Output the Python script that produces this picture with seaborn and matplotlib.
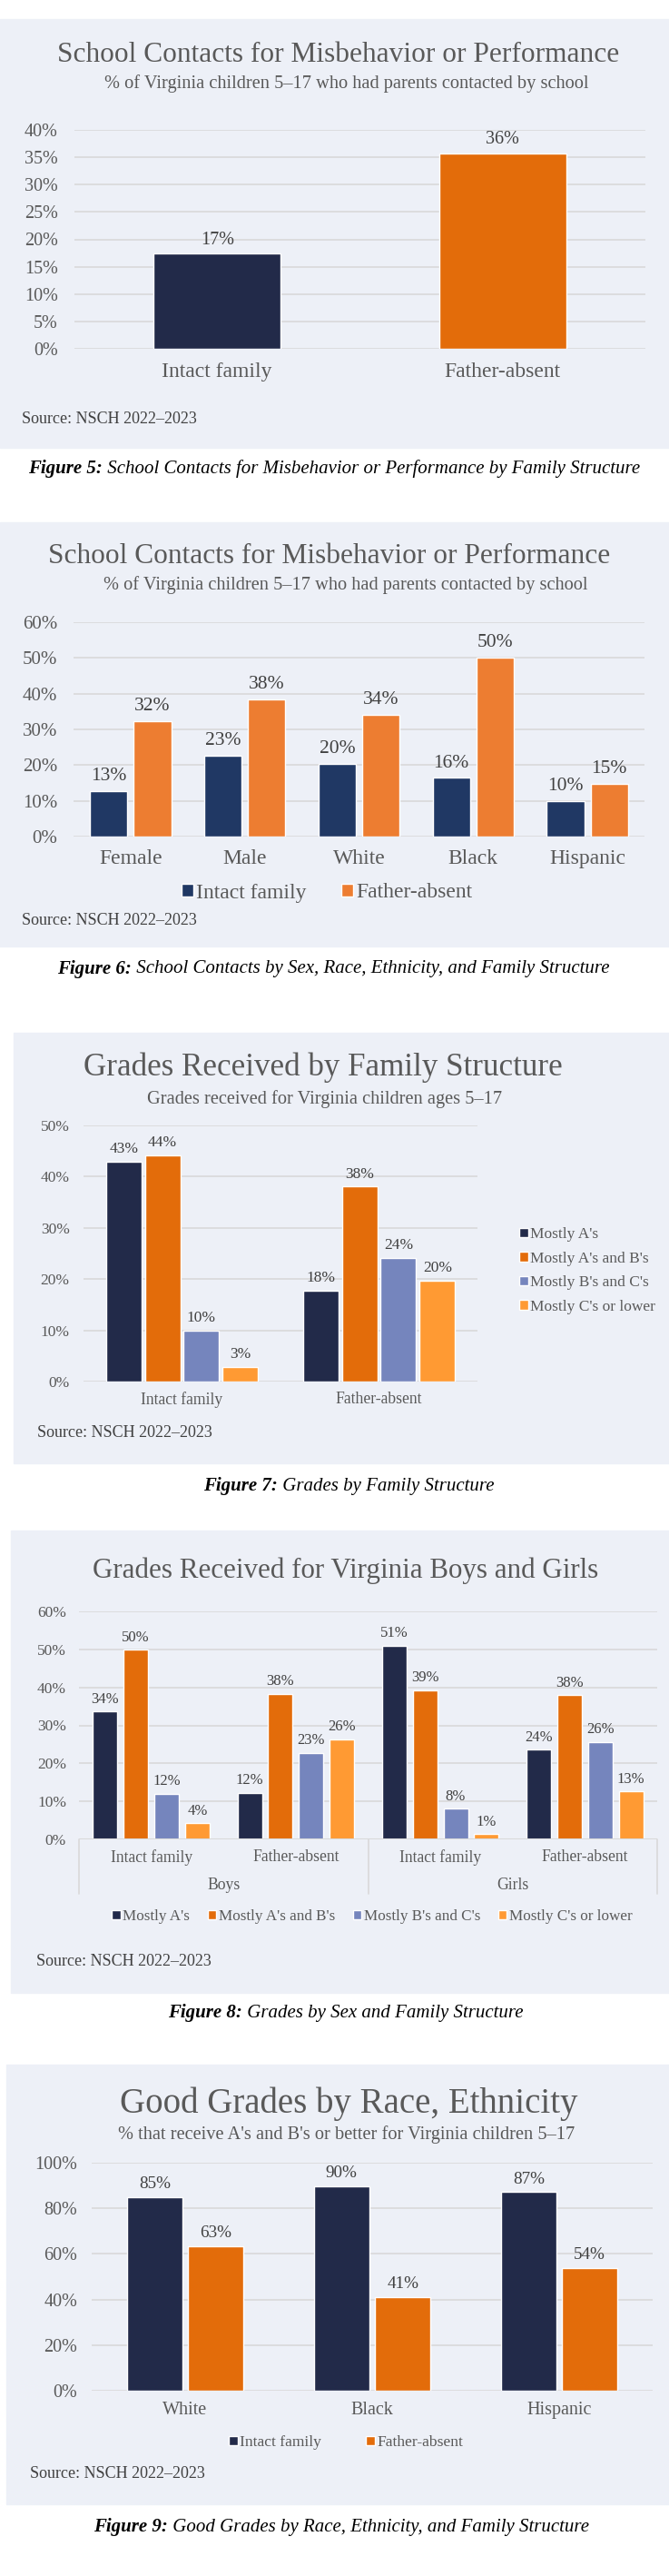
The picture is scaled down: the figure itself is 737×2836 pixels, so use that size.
import pandas as pd
import matplotlib
matplotlib.use("Agg")
import matplotlib.pyplot as plt
import seaborn as sns
from matplotlib.patches import Rectangle
from matplotlib.ticker import PercentFormatter

# ==========================================
# Data
# ==========================================
families = ["Intact family", "Father-absent"]

# Figure 5
fig5_values = [17.4, 35.7]

# Figure 6
fig6_groups = ["Female", "Male", "White", "Black", "Hispanic"]
fig6_intact = [12.8, 22.6, 20.4, 16.4, 9.9]
fig6_absent = [32.4, 38.4, 34.0, 50.0, 14.8]

# Figure 7
grades = ["Mostly A's", "Mostly A's and B's", "Mostly B's and C's", "Mostly C's or lower"]
fig7_intact = [42.9, 44.2, 10.0, 2.9]
fig7_absent = [17.8, 38.1, 24.2, 19.7]

# Figure 8
fig8_sex = ["Boys", "Boys", "Girls", "Girls"]
fig8_family = ["Intact family", "Father-absent", "Intact family", "Father-absent"]
fig8_mostly_a = [33.6, 12.2, 51.0, 23.6]
fig8_mostly_ab = [49.9, 38.3, 39.2, 37.9]
fig8_mostly_bc = [12.0, 22.7, 8.1, 25.6]
fig8_mostly_c = [4.2, 26.4, 1.4, 12.6]

# Figure 9
fig9_groups = ["White", "Black", "Hispanic"]
fig9_intact = [85.0, 89.8, 87.1]
fig9_absent = [63.4, 41.2, 53.8]

# ==========================================
# Style
# ==========================================
W, H = 737, 2836
BG = "#EDF0F7"
GRID = "#D9D9D9"
GRAY = "#595959"
DARK = "#404040"
NAVY = "#222A49"
ORANGE = "#E36C0A"
BLUE = "#7585BD"
LIGHT_ORANGE = "#FF9A33"

sns.set_theme(style="white")
plt.rcParams["font.family"] = ["Liberation Serif", "DejaVu Serif"]

fig = plt.figure(figsize=(W / 100, H / 100), dpi=100, facecolor="white")


def fy(y):
    return 1 - y / H


def panel(x0, y0, x1, y1):
    fig.add_artist(Rectangle((x0 / W, fy(y1)), (x1 - x0) / W, (y1 - y0) / H,
                             transform=fig.transFigure, color=BG, zorder=-5))


def make_axes(l, t, r, b):
    ax = fig.add_axes([l / W, fy(b), (r - l) / W, (b - t) / H])
    ax.set_facecolor("none")
    return ax


def style_axes(ax, ymax, step, ysize, xsize, ypad, xpad):
    ax.set_ylim(0, ymax)
    ax.set_yticks(range(0, ymax + 1, step))
    ax.yaxis.set_major_formatter(PercentFormatter(decimals=0))
    ax.yaxis.grid(True, color=GRID, lw=1.2)
    ax.set_axisbelow(True)
    sns.despine(ax=ax, left=True, bottom=True)
    ax.tick_params(axis="y", length=0, labelsize=ysize, labelcolor=GRAY, pad=ypad)
    ax.tick_params(axis="x", length=0, labelsize=xsize, labelcolor=GRAY, pad=xpad)
    ax.set_xlabel("")
    ax.set_ylabel("")


def label_bars(ax, size, pad):
    for c in ax.containers:
        ax.bar_label(c, fmt="{:.0f}%", padding=pad, fontsize=size, color=DARK)


def caption(cx, y, head, rest):
    r = fig.canvas.get_renderer()
    t1 = fig.text(0, fy(y), head, fontsize=15, fontweight="bold", style="italic",
                  color="black", va="center")
    t2 = fig.text(0, fy(y), rest, fontsize=15, style="italic", color="black", va="center")
    w1 = t1.get_window_extent(r).width
    w2 = t2.get_window_extent(r).width
    start = cx - (w1 + w2) / 2
    t1.set_x(start / W)
    t2.set_x((start + w1) / W)


def source(x, y):
    fig.text(x / W, fy(y), "Source: NSCH 2022–2023", fontsize=13, color=DARK, va="center")


# ==========================================
# Figure 5
# ==========================================
panel(0, 21, W, 493)
fig.text(373 / W, fy(60), "School Contacts for Misbehavior or Performance",
         fontsize=22.6, color=GRAY, ha="center", va="center")
fig.text(382 / W, fy(92), "% of Virginia children 5–17 who had parents contacted by school",
         fontsize=14.7, color=GRAY, ha="center", va="center")
ax1 = make_axes(82, 143, 711, 384)
df5 = pd.DataFrame({"family": families, "pct": fig5_values})
sns.barplot(data=df5, x="family", y="pct", hue="family", palette=[NAVY, ORANGE],
            width=0.445, legend=False, saturation=1, ax=ax1)
style_axes(ax1, 40, 5, 14.5, 17, 13, 11)
ax1.set_xlim(-0.5, 1.5)
label_bars(ax1, 14.5, 4)
source(24, 462)
caption(368, 516, "Figure 5:", " School Contacts for Misbehavior or Performance by Family Structure")

# ==========================================
# Figure 6
# ==========================================
panel(0, 575, W, 1042)
fig.text(363 / W, fy(612), "School Contacts for Misbehavior or Performance",
         fontsize=22.6, color=GRAY, ha="center", va="center")
fig.text(381 / W, fy(644), "% of Virginia children 5–17 who had parents contacted by school",
         fontsize=14.7, color=GRAY, ha="center", va="center")
ax2 = make_axes(81, 685, 710, 921)
df6 = pd.DataFrame({
    "group": fig6_groups * 2,
    "family": [families[0]] * 5 + [families[1]] * 5,
    "pct": fig6_intact + fig6_absent,
})
sns.barplot(data=df6, x="group", y="pct", hue="family", palette=["#203864", "#ED7D31"],
            width=0.765, gap=0.146, saturation=1, ax=ax2)
style_axes(ax2, 60, 10, 15, 17, 13, 10)
ax2.set_xlim(-0.5, 4.5)
label_bars(ax2, 15.5, 5)
sns.move_legend(ax2, "center", bbox_to_anchor=(360 / W, fy(983)), bbox_transform=fig.transFigure,
                ncol=2, frameon=False, title=None, fontsize=17, labelcolor=GRAY,
                handlelength=0.55, handleheight=0.55, handletextpad=0.15, columnspacing=1.6,
                borderpad=0, borderaxespad=0)
source(24, 1013)
caption(367, 1067, "Figure 6:", " School Contacts by Sex, Race, Ethnicity, and Family Structure")

# ==========================================
# Figure 7
# ==========================================
panel(15, 1137, W, 1611)
fig.text(356 / W, fy(1175), "Grades Received by Family Structure",
         fontsize=25.2, color=GRAY, ha="center", va="center")
fig.text(358 / W, fy(1210), "Grades received for Virginia children ages 5–17",
         fontsize=14.7, color=GRAY, ha="center", va="center")
ax3 = make_axes(92, 1239, 526, 1521)
df7 = pd.DataFrame({
    "family": [families[0]] * 4 + [families[1]] * 4,
    "grade": grades * 2,
    "pct": fig7_intact + fig7_absent,
})
sns.barplot(data=df7, x="family", y="pct", hue="grade", hue_order=grades,
            palette=[NAVY, ORANGE, BLUE, LIGHT_ORANGE],
            width=0.79, gap=0.09, saturation=1, ax=ax3)
style_axes(ax3, 50, 10, 12.5, 12.7, 11, 8)
ax3.set_xlim(-0.5, 1.5)
label_bars(ax3, 12.5, 4)
sns.move_legend(ax3, "center left", bbox_to_anchor=(572 / W, fy(1399)), bbox_transform=fig.transFigure,
                ncol=1, frameon=False, title=None, fontsize=12.5, labelcolor=GRAY,
                handlelength=0.55, handleheight=0.55, handletextpad=0.15, labelspacing=0.6,
                borderpad=0, borderaxespad=0)
source(41, 1578)
caption(384, 1636, "Figure 7:", " Grades by Family Structure")

# ==========================================
# Figure 8
# ==========================================
panel(12, 1685, W, 2194)
fig.text(381 / W, fy(1729), "Grades Received for Virginia Boys and Girls",
         fontsize=22.3, color=GRAY, ha="center", va="center")
ax4 = make_axes(87, 1774, 724, 2025)
keys = [s + " " + f for s, f in zip(fig8_sex, fig8_family)]
df8 = pd.DataFrame({
    "key": keys * 4,
    "grade": [g for g in grades for _ in keys],
    "pct": fig8_mostly_a + fig8_mostly_ab + fig8_mostly_bc + fig8_mostly_c,
})
sns.barplot(data=df8, x="key", y="pct", hue="grade", hue_order=grades, order=keys,
            palette=[NAVY, ORANGE, BLUE, LIGHT_ORANGE],
            width=0.85, gap=0.2, saturation=1, ax=ax4)
style_axes(ax4, 60, 10, 12.5, 12.7, 10, 8)
ax4.set_xlim(-0.5, 3.5)
ax4.set_xticks(range(len(keys)))
ax4.set_xticklabels(fig8_family)
label_bars(ax4, 12, 4)
# two-level axis: baseline, separators and Boys / Girls labels
ax4.axhline(0, color=GRID, lw=1.5, zorder=1)
sep_bottom = -(2085 - 2025) / (2025 - 1774)
for xs in [-0.5, 1.5, 3.5]:
    ax4.plot([xs, xs], [0, sep_bottom], color=GRID, lw=1.2, clip_on=False,
             transform=ax4.get_xaxis_transform())
group_y = -(2075 - 2025) / (2025 - 1774)
for xc, name in [(0.5, "Boys"), (2.5, "Girls")]:
    ax4.text(xc, group_y, name, fontsize=12.7, color=GRAY, ha="center", va="center",
             transform=ax4.get_xaxis_transform())
sns.move_legend(ax4, "center", bbox_to_anchor=(410 / W, fy(2110)), bbox_transform=fig.transFigure,
                ncol=4, frameon=False, title=None, fontsize=12.3, labelcolor=GRAY,
                handlelength=0.55, handleheight=0.55, handletextpad=0.15, columnspacing=1.15,
                borderpad=0, borderaxespad=0)
source(40, 2160)
caption(381, 2216, "Figure 8:", " Grades by Sex and Family Structure")

# ==========================================
# Figure 9
# ==========================================
panel(7, 2273, W, 2757)
fig.text(384 / W, fy(2316), "Good Grades by Race, Ethnicity",
         fontsize=28, color=GRAY, ha="center", va="center")
fig.text(382 / W, fy(2350), "% that receive A's and B's or better for Virginia children 5–17",
         fontsize=14.7, color=GRAY, ha="center", va="center")
ax5 = make_axes(101, 2381, 719, 2632)
df9 = pd.DataFrame({
    "group": fig9_groups * 2,
    "family": [families[0]] * 3 + [families[1]] * 3,
    "pct": fig9_intact + fig9_absent,
})
sns.barplot(data=df9, x="group", y="pct", hue="family", palette=[NAVY, ORANGE],
            width=0.655, gap=0.09, saturation=1, ax=ax5)
style_axes(ax5, 100, 20, 14.5, 14.5, 11.5, 8.5)
ax5.set_xlim(-0.5, 2.5)
label_bars(ax5, 13.8, 4)
sns.move_legend(ax5, "center", bbox_to_anchor=(381 / W, fy(2689)), bbox_transform=fig.transFigure,
                ncol=2, frameon=False, title=None, fontsize=12.6, labelcolor=GRAY,
                handlelength=0.55, handleheight=0.55, handletextpad=0.15, columnspacing=2.8,
                borderpad=0, borderaxespad=0)
source(33, 2723)
caption(376, 2782, "Figure 9:", " Good Grades by Race, Ethnicity, and Family Structure")

fig.savefig("out.png", dpi=100, facecolor="white")
